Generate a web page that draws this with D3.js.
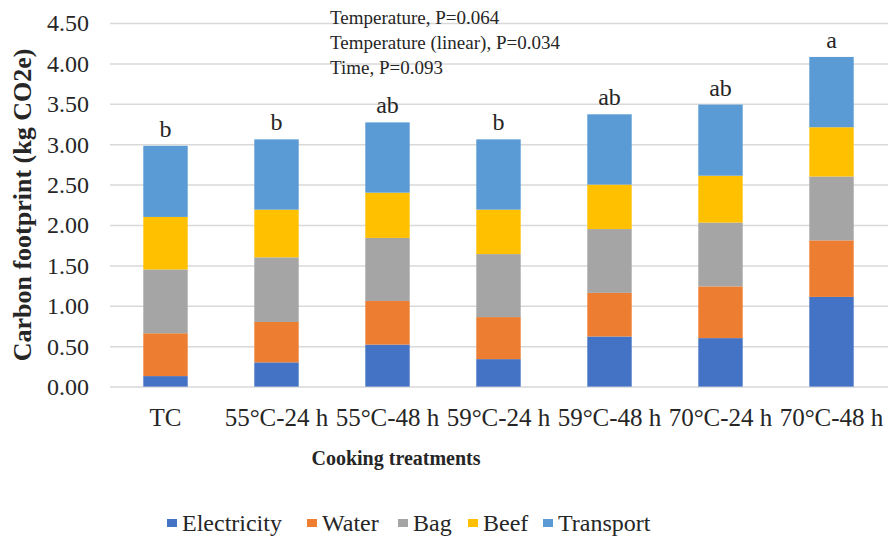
<!DOCTYPE html>
<meta charset="utf-8">
<style>
body { margin: 0; background: #fff; }
svg text { font-family: "Liberation Serif", "Times New Roman", serif; fill: #262626; }
.grid line { stroke: #d9d9d9; stroke-width: 1.5px; }
.grid path { display: none; }
</style>
<svg width="890" height="540" font-family="Liberation Serif"></svg>
<script src="https://d3js.org/d3.v7.min.js"></script>
<script>

var categories = ["TC", "55°C-24 h", "55°C-48 h", "59°C-24 h", "59°C-48 h", "70°C-24 h", "70°C-48 h"];
var series = ["Electricity", "Water", "Bag", "Beef", "Transport"];
var colors = ["#4472C4", "#ED7D31", "#A5A5A5", "#FFC000", "#5B9BD5"];

// kg CO2e per treatment, one array per source
var electricity = [0.13, 0.30, 0.52, 0.34, 0.62, 0.60, 1.11];
var water       = [0.53, 0.50, 0.54, 0.52, 0.54, 0.64, 0.70];
var bag         = [0.79, 0.80, 0.78, 0.78, 0.79, 0.79, 0.79];
var beef        = [0.65, 0.59, 0.56, 0.55, 0.55, 0.58, 0.61];
var transport   = [0.88, 0.87, 0.87, 0.87, 0.87, 0.88, 0.87];

var letters = ["b", "b", "ab", "b", "ab", "ab", "a"];
var yTicks = [0, 0.5, 1, 1.5, 2, 2.5, 3, 3.5, 4, 4.5];
var notes = ["Temperature, P=0.064", "Temperature (linear), P=0.034", "Time, P=0.093"];

var svg = d3.select("svg");

var table = categories.map(function(c, i) {
  return { cat: c, Electricity: electricity[i], Water: water[i], Bag: bag[i], Beef: beef[i], Transport: transport[i] };
});
var stacked = d3.stack().keys(series)(table);

var x = d3.scaleBand()
    .domain(categories)
    .range([110, 887])
    .paddingInner(0.6)
    .paddingOuter(0.3);

var y = d3.scaleLinear()
    .domain([0, 4.5])
    .range([386.6, 23]);

var color = d3.scaleOrdinal().domain(series).range(colors);

// gridlines
svg.append("g")
    .attr("class", "grid")
    .attr("transform", "translate(110,0)")
    .call(d3.axisLeft(y).tickValues(yTicks).tickSize(-778).tickFormat(""));

// tick labels
svg.append("g").selectAll("text")
  .data(yTicks)
  .enter().append("text")
    .attr("x", 89)
    .attr("y", function(d) { return y(d); })
    .attr("dy", "0.35em")
    .attr("text-anchor", "end")
    .style("font-size", "24px")
    .text(function(d) { return d3.format(".2f")(d); });

// bars
svg.append("g").selectAll("g")
  .data(stacked)
  .enter().append("g")
    .attr("fill", function(d) { return color(d.key); })
  .selectAll("rect")
  .data(function(d) { return d; })
  .enter().append("rect")
    .attr("x", function(d) { return x(d.data.cat); })
    .attr("y", function(d) { return y(d[1]); })
    .attr("height", function(d) { return y(d[0]) - y(d[1]); })
    .attr("width", x.bandwidth());

// significance letters above the stacks
var topLayer = stacked[stacked.length - 1];
svg.append("g").selectAll("text")
  .data(topLayer)
  .enter().append("text")
    .attr("x", function(d) { return x(d.data.cat) + x.bandwidth() / 2; })
    .attr("y", function(d) { return y(d[1]) - 9; })
    .attr("text-anchor", "middle")
    .style("font-size", "24px")
    .text(function(d, i) { return letters[i]; });

// category labels
svg.append("g").selectAll("text")
  .data(categories)
  .enter().append("text")
    .attr("x", function(d) { return x(d) + x.bandwidth() / 2; })
    .attr("y", 426)
    .attr("text-anchor", "middle")
    .style("font-size", "25px")
    .text(function(d) { return d; });

// p-value notes
svg.append("g").selectAll("text")
  .data(notes)
  .enter().append("text")
    .attr("x", 330)
    .attr("y", function(d, i) { return 24 + i * 25; })
    .style("font-size", "19px")
    .text(function(d) { return d; });

// axis titles
svg.append("text")
    .attr("x", 396)
    .attr("y", 465)
    .attr("text-anchor", "middle")
    .style("font-size", "20px")
    .style("font-weight", "bold")
    .text("Cooking treatments");

svg.append("text")
    .attr("transform", "translate(31,205) rotate(-90)")
    .attr("text-anchor", "middle")
    .style("font-size", "26px")
    .style("font-weight", "bold")
    .text("Carbon footprint (kg CO2e)");

// legend
var legendX = [167, 307, 398, 468, 543];
var legend = svg.append("g").selectAll("g")
  .data(series)
  .enter().append("g")
    .attr("transform", function(d, i) { return "translate(" + legendX[i] + ",523)"; });

legend.append("rect")
    .attr("x", 0)
    .attr("y", -4)
    .attr("width", 10)
    .attr("height", 8)
    .attr("fill", function(d) { return color(d); });

legend.append("text")
    .attr("x", 15)
    .attr("dy", "0.35em")
    .style("font-size", "24px")
    .text(function(d) { return d; });

</script>
